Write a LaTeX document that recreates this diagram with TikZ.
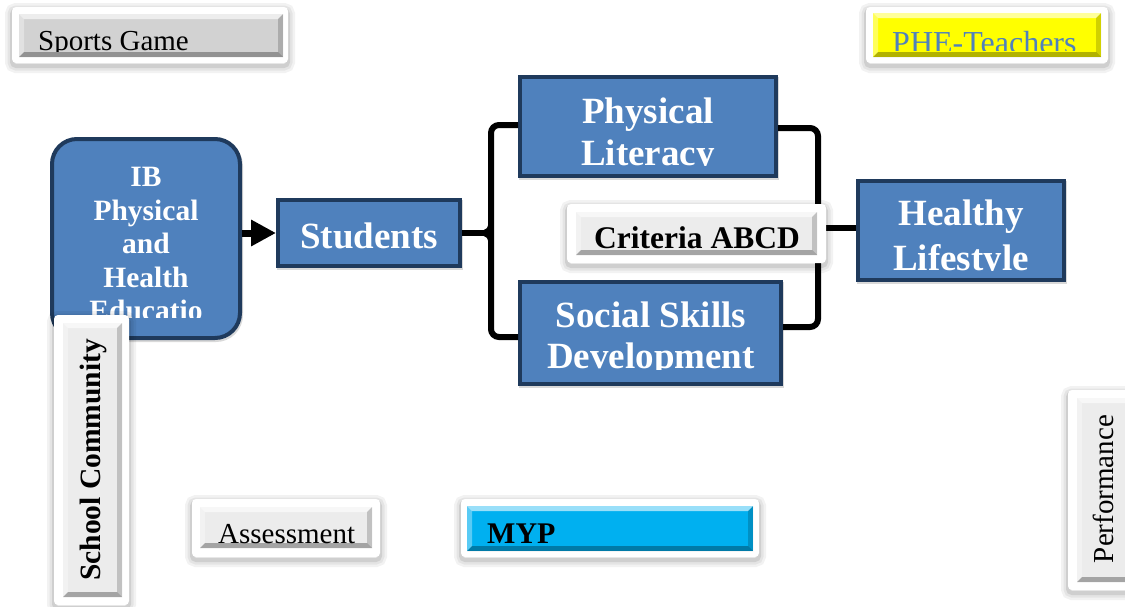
\documentclass[tikz,border=0pt]{standalone}
\usepackage{fontspec}
\setmainfont{Liberation Serif}
\usetikzlibrary{arrows.meta,fit,calc}
\definecolor{boxblue}{HTML}{4F81BD}
\definecolor{boxline}{HTML}{1F3A5C}
\definecolor{mypblue}{HTML}{00B0F0}
\definecolor{yel}{HTML}{FFFF00}
\definecolor{gA}{HTML}{D2D2D2}
\definecolor{gB}{HTML}{ECECEC}
\begin{document}
\begin{tikzpicture}[x=1pt,y=-1pt,
  outerbox/.style={fill=white, rounded corners=4pt, inner sep=0pt,
    preaction={draw=black, draw opacity=0.05, line width=14pt, transform canvas={yshift=-3pt}},
    preaction={draw=black, draw opacity=0.06, line width=9pt, transform canvas={yshift=-3pt}},
    preaction={draw=black, draw opacity=0.09, line width=4pt, transform canvas={yshift=-3pt}}},
  bevel/.style={fill=#1, inner sep=0pt, path picture={
    \fill[white, opacity=0.6] (path picture bounding box.north west) -- (path picture bounding box.north east) -- ([xshift=-5pt,yshift=-5pt]path picture bounding box.north east) -- ([xshift=5pt,yshift=-5pt]path picture bounding box.north west) -- cycle;
    \fill[white, opacity=0.35] (path picture bounding box.north west) -- ([xshift=5pt,yshift=-5pt]path picture bounding box.north west) -- ([xshift=5pt,yshift=5pt]path picture bounding box.south west) -- (path picture bounding box.south west) -- cycle;
    \fill[black, opacity=0.3] (path picture bounding box.south west) -- (path picture bounding box.south east) -- ([xshift=-5pt,yshift=5pt]path picture bounding box.south east) -- ([xshift=5pt,yshift=5pt]path picture bounding box.south west) -- cycle;
    \fill[black, opacity=0.18] (path picture bounding box.north east) -- ([xshift=-5pt,yshift=-5pt]path picture bounding box.north east) -- ([xshift=-5pt,yshift=5pt]path picture bounding box.south east) -- (path picture bounding box.south east) -- cycle;
  }},
  bluebox/.style={fill=boxblue, draw=boxline, line width=4pt, inner sep=0pt,
    preaction={draw=black, draw opacity=0.15, line width=4pt, transform canvas={xshift=1pt,yshift=-2pt}}},
  conn/.style={draw=black, line width=6pt},
  txt/.style={inner sep=0pt, anchor=base},
  wtxt/.style={txt, text=white, font=\bfseries\fontsize{37}{42}\selectfont},
  ibtxt/.style={txt, text=white, font=\bfseries\fontsize{29.5}{33}\selectfont},
]
\useasboundingbox (0,0) rectangle (1125,606);
\clip (0,0) rectangle (1125,606);

% ---- main blue boxes
\node[bluebox, rounded corners=25pt, fit={(52,139) (240,338)}] (ib) {};
\node[bluebox, fit={(278,200) (460,266)}] (st) {};
\node[bluebox, fit={(520,77) (776,176)}] (pl) {};
\node[bluebox, fit={(520,282) (781,384)}] (ssd) {};
\node[bluebox, fit={(858,181) (1064,280)}] (hl) {};

% ---- connectors
\draw[line width=7pt, -{Triangle[length=25pt,width=25pt]}] (ib.east |- st.west) -- (st.west);
\coordinate (lb) at (491,233);
\coordinate (lbu) at (491,220);
\coordinate (lbd) at (491,246);
\coordinate (lbp) at (479,233);
\draw[conn, rounded corners=8pt] ([yshift=1.5pt]pl.west) -| (lb) |- ([yshift=-4pt]ssd.west);
\draw[conn] (st.east) -- (lb);
\draw[line width=5pt] (lbu) .. controls (491,230) and (488,233) .. (lbp) .. controls (488,233) and (491,236) .. (lbd);
\coordinate (rb) at (818,228);
\draw[conn, rounded corners=8pt] ([yshift=-1.5pt]pl.east) -| (rb) |- ([yshift=6pt]ssd.east);
\draw[conn] (rb) -- (rb -| hl.west);

% ---- texts of blue boxes
\begin{scope}
\clip (54,141) rectangle (238,317);
\node[ibtxt] (ib1) at (146,186) {IB};
\node[ibtxt] (ib2) at (146,220) {Physical};
\node[ibtxt] (ib3) at (146,253) {and};
\node[ibtxt] (ib4) at (146,287) {Health};
\node[ibtxt] (ib5) at (146,320) {Educatio};
\end{scope}
\node[wtxt] (stt) at (369,248) {Students};
\begin{scope}
\clip (522,79) rectangle (774,165.5);
\node[wtxt] (pl1) at (648,123) {Physical};
\node[wtxt] (pl2) at (648,165) {Literacy};
\end{scope}
\begin{scope}
\clip (522,284) rectangle (779,369);
\node[wtxt] (ss1) at (651,327) {Social Skills};
\node[wtxt] (ss2) at (651,368) {Development};
\end{scope}
\begin{scope}
\clip (860,183) rectangle (1062,270.5);
\node[wtxt] (hl1) at (961,225) {Healthy};
\node[wtxt] (hl2) at (961,270) {Lifestyle};
\end{scope}

% ---- Criteria ABCD
\node[outerbox, fit={(567,204) (826,263)}] (cro) {};
\node[bevel=gB, fit={(576,212) (817,255)}] (cr) {};
\node[txt, font=\bfseries\fontsize{31.5}{36}\selectfont] (crt) at (697,248) {Criteria ABCD};

% ---- Sports Game
\node[outerbox, fit={(12,7) (288,63)}] (sgo) {};
\node[bevel=gA, fit={(19,14) (283,57)}] (sg) {};
\begin{scope}
\clip (19,14) rectangle (283,51);
\node[txt, anchor=base west, font=\fontsize{29}{32}\selectfont] (sgt) at (38,50) {Sports Game};
\end{scope}

% ---- PHE-Teachers
\node[outerbox, fit={(866,7) (1108,63)}] (pheo) {};
\node[bevel=yel, fit={(873,13) (1101,57)}] (phe) {};
\begin{scope}
\clip (873,13) rectangle (1101,50);
\node[txt, anchor=base west, text=boxblue, font=\fontsize{32}{36}\selectfont] (phet) at (892,53) {PHE-Teachers};
\end{scope}

% ---- School Community
\node[outerbox, fit={(54,315) (129,605)}] (sco) {};
\node[bevel=gB, fit={(63,323) (122,597)}] (sc) {};
\node[txt, rotate=90, font=\bfseries\fontsize{29.5}{33}\selectfont] (sct) at (100,460) {School Community};

% ---- Assessment
\node[outerbox, fit={(192,499) (380,557)}] (aso) {};
\node[bevel=gB, fit={(200,507) (372,548)}] (as) {};
\node[txt, anchor=base west, font=\fontsize{29}{33}\selectfont] (ast) at (218,543) {Assessment};

% ---- MYP
\node[outerbox, fit={(461,499) (759,557)}] (mypo) {};
\node[bevel=mypblue, fit={(467,506) (753,551)}] (myp) {};
\node[txt, anchor=base west, font=\bfseries\fontsize{30}{34}\selectfont] (mypt) at (487,543) {MYP};

% ---- Performance
\node[outerbox, fit={(1068,390) (1140,590)}] (pfo) {};
\node[bevel=gB, fit={(1077,398) (1134,582)}] (pf) {};
\node[txt, rotate=90, font=\fontsize{29}{33}\selectfont] (pft) at (1113,489) {Performance};
\end{tikzpicture}
\end{document}
